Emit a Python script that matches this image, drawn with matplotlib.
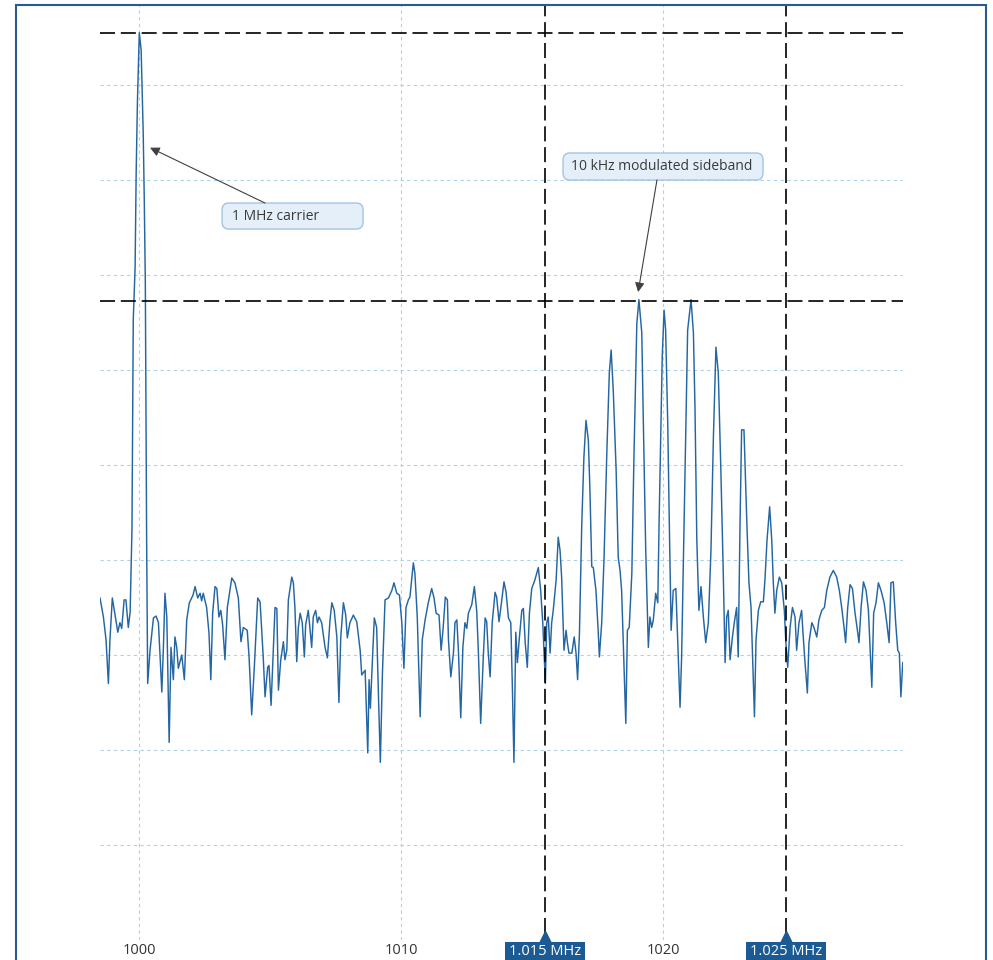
import matplotlib
matplotlib.use('Agg')
import matplotlib.pyplot as plt
from matplotlib.patches import FancyBboxPatch, Rectangle
from matplotlib.transforms import blended_transform_factory

plt.rcParams['font.family'] = ['Open Sans', 'DejaVu Sans']

# spectrum trace, frequency in kHz and level in dB
freq_khz = [
    998.51, 998.64, 998.74, 998.83, 998.89, 998.98, 999.19, 999.27, 999.34, 999.43,
    999.50, 999.59, 999.66, 999.73, 999.78, 999.85, 999.89, 999.94, 1000.01, 1000.08,
    1000.16, 1000.20, 1000.24, 1000.29, 1000.33, 1000.42, 1000.55, 1000.65, 1000.74, 1000.87,
    1000.93, 1000.99, 1001.06, 1001.15, 1001.22, 1001.31, 1001.37, 1001.44, 1001.50, 1001.63,
    1001.73, 1001.82, 1001.92, 1002.06, 1002.14, 1002.24, 1002.33, 1002.39, 1002.45, 1002.58,
    1002.67, 1002.74, 1002.81, 1002.90, 1002.97, 1003.05, 1003.12, 1003.19, 1003.28, 1003.37,
    1003.54, 1003.66, 1003.79, 1003.89, 1003.98, 1004.13, 1004.20, 1004.30, 1004.40, 1004.53,
    1004.62, 1004.74, 1004.81, 1004.91, 1004.96, 1005.04, 1005.13, 1005.19, 1005.26, 1005.32,
    1005.41, 1005.51, 1005.57, 1005.64, 1005.70, 1005.83, 1005.89, 1005.95, 1006.02, 1006.08,
    1006.15, 1006.23, 1006.31, 1006.36, 1006.46, 1006.53, 1006.59, 1006.65, 1006.74, 1006.81,
    1006.87, 1006.97, 1007.10, 1007.19, 1007.29, 1007.36, 1007.45, 1007.55, 1007.63, 1007.70,
    1007.80, 1007.89, 1007.95, 1008.05, 1008.18, 1008.31, 1008.44, 1008.50, 1008.63, 1008.73,
    1008.78, 1008.83, 1008.88, 1008.98, 1009.07, 1009.13, 1009.21, 1009.29, 1009.39, 1009.52,
    1009.65, 1009.73, 1009.84, 1009.94, 1010.03, 1010.11, 1010.19, 1010.28, 1010.34, 1010.47,
    1010.53, 1010.62, 1010.73, 1010.81, 1010.92, 1011.04, 1011.17, 1011.26, 1011.34, 1011.45,
    1011.53, 1011.61, 1011.69, 1011.77, 1011.81, 1011.90, 1012.00, 1012.06, 1012.13, 1012.19,
    1012.28, 1012.36, 1012.44, 1012.51, 1012.57, 1012.70, 1012.80, 1012.89, 1012.95, 1013.04,
    1013.14, 1013.21, 1013.27, 1013.33, 1013.40, 1013.48, 1013.59, 1013.65, 1013.74, 1013.81,
    1013.93, 1014.01, 1014.10, 1014.19, 1014.25, 1014.31, 1014.38, 1014.44, 1014.52, 1014.61,
    1014.67, 1014.74, 1014.82, 1014.90, 1014.99, 1015.11, 1015.24, 1015.33, 1015.41, 1015.46,
    1015.51, 1015.56, 1015.62, 1015.69, 1015.75, 1015.81, 1015.92, 1016.00, 1016.07, 1016.13,
    1016.22, 1016.30, 1016.35, 1016.41, 1016.52, 1016.61, 1016.68, 1016.74, 1016.81, 1016.90,
    1016.98, 1017.06, 1017.15, 1017.21, 1017.28, 1017.34, 1017.44, 1017.53, 1017.57, 1017.66,
    1017.75, 1017.85, 1017.95, 1018.02, 1018.10, 1018.21, 1018.29, 1018.36, 1018.42, 1018.52,
    1018.58, 1018.64, 1018.71, 1018.81, 1018.89, 1019.00, 1019.08, 1019.19, 1019.25, 1019.34,
    1019.44, 1019.50, 1019.57, 1019.63, 1019.72, 1019.80, 1019.85, 1019.92, 1019.97, 1020.04,
    1020.10, 1020.18, 1020.24, 1020.31, 1020.39, 1020.49, 1020.56, 1020.65, 1020.71, 1020.78,
    1020.87, 1020.94, 1021.07, 1021.16, 1021.22, 1021.29, 1021.37, 1021.45, 1021.54, 1021.63,
    1021.73, 1021.83, 1021.92, 1022.02, 1022.11, 1022.21, 1022.30, 1022.37, 1022.43, 1022.49,
    1022.56, 1022.65, 1022.72, 1022.81, 1022.87, 1022.94, 1023.00, 1023.09, 1023.20, 1023.28,
    1023.36, 1023.42, 1023.49, 1023.55, 1023.64, 1023.73, 1023.83, 1023.89, 1023.97, 1024.07,
    1024.15, 1024.21, 1024.27, 1024.34, 1024.44, 1024.53, 1024.63, 1024.69, 1024.76, 1024.85,
    1024.94, 1025.04, 1025.10, 1025.19, 1025.29, 1025.36, 1025.42, 1025.51, 1025.57, 1025.68,
    1025.76, 1025.87, 1025.95, 1026.06, 1026.16, 1026.25, 1026.37, 1026.50, 1026.63, 1026.73,
    1026.82, 1026.91, 1026.97, 1027.05, 1027.14, 1027.23, 1027.33, 1027.42, 1027.48, 1027.56,
    1027.65, 1027.75, 1027.84, 1027.93, 1027.97, 1028.04, 1028.13, 1028.22, 1028.32, 1028.44,
    1028.54, 1028.63, 1028.70, 1028.79, 1028.88, 1028.96, 1029.02, 1029.08, 1029.15,
]
level_db = [
    -84.0, -86.0, -88.4, -93.0, -88.4, -84.0, -87.6, -86.6, -87.2, -84.2,
    -84.2, -87.1, -85.5, -76.8, -54.7, -49.2, -39.3, -31.6, -24.5, -26.3,
    -35.1, -42.1, -50.8, -77.9, -93.0, -89.5, -86.1, -85.9, -86.6, -93.9,
    -89.2, -83.5, -86.0, -99.2, -89.2, -92.6, -88.1, -89.2, -91.4, -90.0,
    -92.6, -86.3, -84.5, -83.7, -82.8, -84.0, -83.5, -84.3, -83.5, -85.0,
    -87.7, -92.6, -85.6, -82.8, -83.0, -86.0, -85.3, -86.8, -90.5, -85.0,
    -81.9, -82.4, -84.0, -88.6, -87.1, -87.4, -90.2, -96.3, -91.3, -84.0,
    -84.4, -90.2, -94.4, -91.3, -91.1, -95.3, -89.2, -85.0, -85.1, -93.7,
    -90.5, -88.6, -90.5, -89.5, -84.2, -81.8, -82.4, -85.0, -90.7, -87.1,
    -85.6, -86.6, -90.2, -86.8, -85.3, -87.4, -89.2, -86.0, -85.3, -86.6,
    -86.0, -86.6, -89.2, -90.3, -86.3, -84.5, -85.3, -88.1, -95.0, -88.1,
    -84.5, -85.8, -88.2, -86.6, -85.8, -86.5, -89.5, -92.1, -91.6, -100.3,
    -92.6, -95.6, -92.3, -86.1, -87.1, -93.4, -101.3, -91.9, -84.2, -84.0,
    -83.2, -82.4, -83.5, -83.7, -86.6, -91.4, -85.0, -84.2, -83.9, -80.3,
    -81.4, -86.0, -96.5, -88.4, -86.3, -84.5, -83.0, -84.0, -85.6, -85.8,
    -89.5, -87.1, -83.9, -84.2, -88.4, -92.3, -89.8, -86.6, -86.3, -89.5,
    -96.6, -89.2, -86.6, -87.2, -85.6, -84.7, -82.8, -85.4, -89.5, -97.2,
    -90.2, -86.1, -86.5, -89.8, -92.3, -86.6, -83.4, -83.9, -86.5, -85.0,
    -82.3, -83.4, -86.1, -86.6, -93.4, -101.3, -87.6, -90.8, -88.1, -85.3,
    -85.1, -88.7, -91.3, -85.6, -83.0, -82.1, -80.8, -83.2, -86.6, -89.8,
    -93.0, -86.6, -86.0, -89.8, -86.6, -85.3, -82.1, -77.6, -79.0, -81.8,
    -89.5, -87.4, -88.7, -89.8, -89.8, -88.1, -89.8, -92.6, -87.7, -76.1,
    -69.2, -65.3, -67.4, -72.6, -80.7, -80.8, -83.2, -87.7, -90.2, -86.6,
    -79.7, -69.2, -60.3, -57.9, -62.1, -70.5, -79.7, -81.1, -83.2, -91.9,
    -97.2, -87.4, -87.1, -81.4, -69.2, -55.1, -52.6, -56.1, -65.6, -79.0,
    -89.2, -86.0, -87.1, -86.3, -83.5, -84.5, -76.1, -65.6, -58.6, -53.7,
    -55.8, -65.6, -76.1, -87.4, -83.2, -83.0, -88.4, -95.5, -90.2, -79.7,
    -65.6, -55.8, -52.6, -56.1, -63.9, -77.9, -85.3, -82.8, -86.0, -88.7,
    -86.6, -79.0, -67.4, -57.6, -60.3, -70.8, -81.4, -90.8, -86.0, -85.3,
    -90.5, -88.1, -86.6, -85.0, -90.2, -76.1, -66.3, -66.3, -76.1, -82.4,
    -85.0, -90.2, -96.5, -88.4, -85.3, -84.4, -84.4, -82.1, -77.9, -74.4,
    -77.9, -82.4, -85.6, -83.2, -81.8, -82.4, -85.3, -88.7, -91.3, -87.1,
    -85.0, -86.0, -89.5, -86.6, -85.3, -88.4, -90.8, -94.0, -88.7, -86.6,
    -87.1, -88.1, -86.3, -85.3, -85.0, -83.2, -81.8, -81.1, -81.8, -83.2,
    -85.0, -87.1, -88.7, -85.0, -82.6, -83.0, -85.6, -87.4, -88.7, -85.0,
    -82.3, -83.2, -85.3, -90.8, -93.4, -85.6, -84.5, -82.4, -83.2, -84.5,
    -86.6, -88.7, -82.4, -82.3, -86.6, -89.5, -89.8, -94.4, -90.8,
]

x_ticks = [1000, 1010, 1020]
y_grid = list(range(-120, -29, 10))

# cursors
cursor_freqs = [1015.51, 1024.71]
cursor_labels = ['1.015 MHz', '1.025 MHz']
cursor_levels = [-24.5, -52.7]

trace_color = '#2466a2'
cursor_blue = '#1c5a94'

fig = plt.figure(figsize=(9.93, 9.60), dpi=100)

# outer panel frame
fig.patches.append(Rectangle((16 / 993, -0.02), 970 / 993, 955 / 960 + 0.02,
                             transform=fig.transFigure, fill=False,
                             edgecolor='#2a5a90', linewidth=1.5))

ax = fig.add_axes([100 / 993, 20 / 960, 803 / 993, 935 / 960])
ax.set_xlim(998.51, 1029.16)
ax.set_ylim(-120, -21.58)

ax.plot(freq_khz, level_db, color=trace_color, linewidth=1.05, zorder=3)

ax.set_xticks(x_ticks)
ax.set_xticklabels([str(t) for t in x_ticks])
ax.set_yticks(y_grid)
ax.tick_params(axis='x', length=0, pad=2.5, labelsize=10.5, labelcolor='#333333')
ax.tick_params(axis='y', length=0, labelleft=False)
ax.grid(True, color='#aed2e2', linestyle=(0, (3, 3)), linewidth=0.8)
for s in ax.spines.values():
    s.set_visible(False)

# cursor lines
dash = (0, (9, 3.5))
for lvl in cursor_levels:
    ax.axhline(lvl, color='black', linestyle=dash, linewidth=1.2, zorder=4)
for f in cursor_freqs:
    ax.axvline(f, ymin=0.0075, ymax=1, color='black', linestyle=dash,
               linewidth=1.2, zorder=4, clip_on=False)

# cursor flags under the axis (box runs off the bottom of the panel)
bt = blended_transform_factory(ax.transData, ax.transAxes)
flag_w = 3.05  # kHz
for f, lab in zip(cursor_freqs, cursor_labels):
    ax.add_patch(Rectangle((f - flag_w / 2, -0.04), flag_w, 0.038, transform=bt,
                           facecolor=cursor_blue, edgecolor='none',
                           clip_on=False, zorder=5))
    ax.plot([f], [0.003], marker='^', markersize=9, color=cursor_blue,
            transform=bt, clip_on=False, zorder=5)
    ax.text(f, -0.0118, lab, transform=bt, ha='center', va='center',
            fontsize=10.5, color='white', zorder=6, clip_on=False)

# callouts
def callout(text, box, text_xy, start, tip):
    ax.add_patch(FancyBboxPatch(box[:2], box[2], box[3], transform=ax.transAxes,
                                boxstyle='round,pad=0,rounding_size=0.008',
                                facecolor='#e5eff9', edgecolor='#a3c4e4',
                                linewidth=1.0, zorder=6))
    ax.text(text_xy[0], text_xy[1], text, transform=ax.transAxes, ha='left',
            va='center', fontsize=10, color='#3a3a3a', zorder=7)
    ax.annotate('', xy=tip, xycoords='data', xytext=start,
                textcoords='axes fraction', zorder=7,
                arrowprops=dict(arrowstyle='-|>', color='#404040', lw=0.8,
                                mutation_scale=14, shrinkA=0, shrinkB=0))

callout('1 MHz carrier', (0.152, 0.7604, 0.1756, 0.0278), (0.1644, 0.7743),
        (0.2055, 0.7882), (1000.42, -36.6))
callout('10 kHz modulated sideband', (0.5766, 0.8128, 0.2491, 0.0289),
        (0.5866, 0.8273), (0.6936, 0.8128), (1019.05, -51.8))

fig.savefig('out.png', dpi=100, facecolor='white')
